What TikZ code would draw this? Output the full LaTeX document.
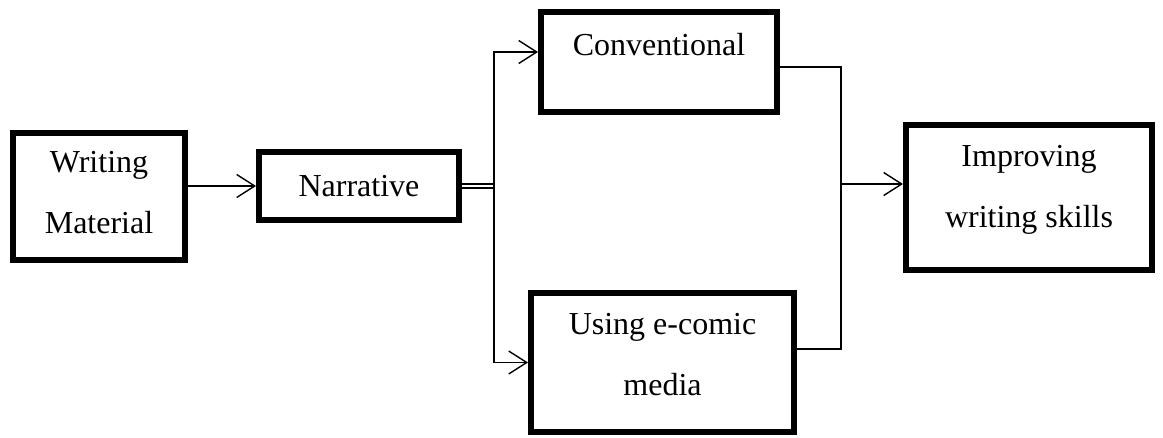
\documentclass[tikz,border=0pt]{standalone}
\usepackage{fontspec}
\setmainfont{Liberation Serif}
\usetikzlibrary{arrows.meta}
\newcommand{\lowpad}[1]{\rule[-#1]{0pt}{#1}}
\begin{document}
\begin{tikzpicture}[x=1pt, y=-1pt,
          font=\fontsize{32}{61}\selectfont,
          box/.style={draw, line width=6pt, align=center, inner sep=0pt},
          link/.style={line width=1.4pt},
          arr/.style={link, -{Straight Barb[length=18pt, width=23pt]}}]
        \useasboundingbox (0,0) rectangle (1163,437);
        \node[box, minimum width=172pt, minimum height=127pt] (wm) at (99,196.5) {Writing\\Material\lowpad{8pt}};
        \node[box, minimum width=200pt, minimum height=68pt] (narr) at (359,186) {Narrative};
        \node[box, minimum width=236pt, minimum height=100pt] (conv) at (659,62) {Conventional\lowpad{36pt}};
        \node[box, minimum width=263pt, minimum height=139pt] (ecom) at (662.5,362.5) {Using e-comic\\media\lowpad{16pt}};
        \node[box, minimum width=246pt, minimum height=145pt] (impr) at (1029,197.5) {Improving\\writing skills\lowpad{22pt}};
        \coordinate (fork) at (494,186);
        \coordinate (join) at (841,184);
        % connectors
        \draw[arr] (wm.east |- narr.west) -- (narr.west);
        \draw[link] ([yshift=2pt]narr.east) -- ([yshift=2pt]narr.east -| fork);
        \draw[link] ([yshift=-2pt]narr.east) -- ([yshift=-2pt]narr.east -| fork);
        \draw[arr] (fork) |- ([yshift=10pt]conv.west);
        \draw[arr] (fork) |- (ecom.west);
        \draw[link] ([yshift=-5pt]conv.east) -| (join) |- ([yshift=13.5pt]ecom.east);
        \draw[arr] (join) -- (impr.west |- join);
      \end{tikzpicture}
\end{document}
